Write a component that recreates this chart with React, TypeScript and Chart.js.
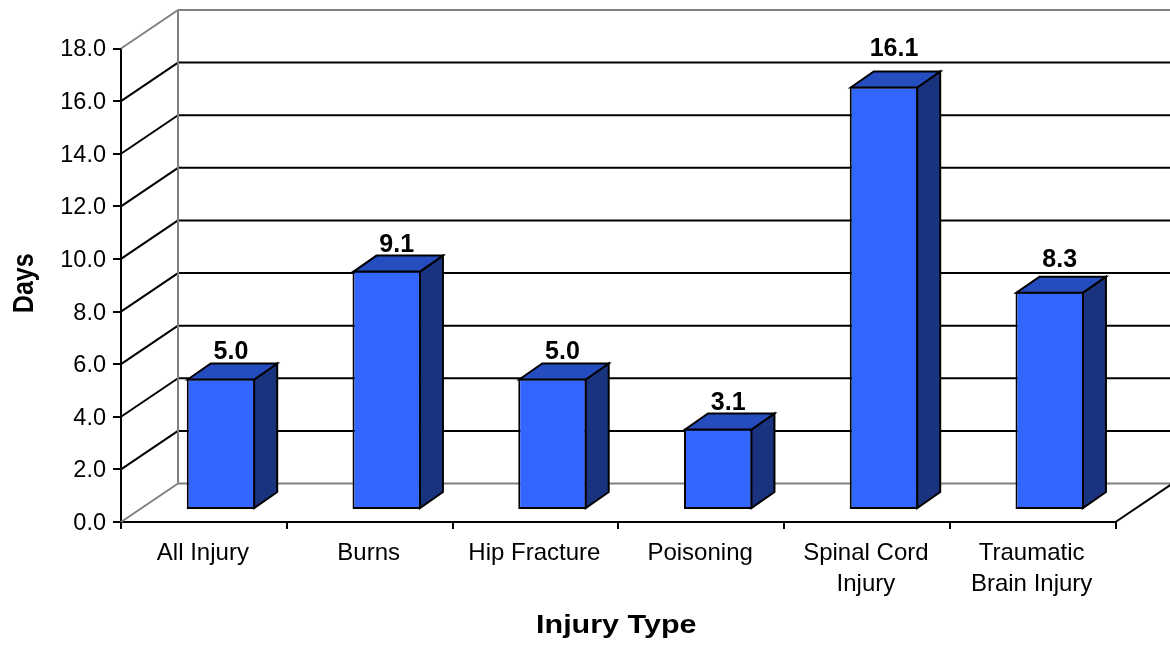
import React, { useEffect, useRef } from "react";
import { Chart, registerables } from "chart.js";

Chart.register(...registerables);

const categories = ["All Injury", "Burns", "Hip Fracture", "Poisoning", ["Spinal Cord", "Injury"], ["Traumatic", "Brain Injury"]];
const days = [5.0, 9.1, 5.0, 3.1, 16.1, 8.3];
const labelLift = [19, 18.5, 19, 18.5, 30, 24.5];
const xTitle = "Injury Type";
const yTitle = "Days";

const FONT = "'Liberation Sans', Arial, sans-serif";
const WALL_DX = 57;
const WALL_DY = -38.5;
const BAR_DX = 17.1;
const BAR_DY = -12;
const FACE_DX = 23;
const FACE_DY = -16;
const GREY = "#808080";

const line = (ctx: CanvasRenderingContext2D, x1: number, y1: number, x2: number, y2: number, color: string) => {
  ctx.strokeStyle = color;
  ctx.lineWidth = 2;
  ctx.beginPath();
  ctx.moveTo(x1, y1);
  ctx.lineTo(x2, y2);
  ctx.stroke();
};

const poly = (ctx: CanvasRenderingContext2D, pts: number[][], fill: string) => {
  ctx.fillStyle = fill;
  ctx.strokeStyle = "#000";
  ctx.lineWidth = 2;
  ctx.lineJoin = "miter";
  ctx.beginPath();
  pts.forEach((p, i) => (i ? ctx.lineTo(p[0], p[1]) : ctx.moveTo(p[0], p[1])));
  ctx.closePath();
  ctx.fill();
  ctx.stroke();
};

const box3d = {
  id: "box3d",
  beforeDatasetsDraw(chart: any) {
    const { ctx, scales, width } = chart;
    const y = scales.y;
    const left = scales.x.left;
    const right = scales.x.right;
    ctx.save();
    y.ticks.forEach((t: any, i: number) => {
      const py = y.getPixelForValue(t.value);
      const isEdge = i === 0 || i === y.ticks.length - 1;
      const color = isEdge ? GREY : "#000";
      line(ctx, left, py, left + WALL_DX, py + WALL_DY, color);
      line(ctx, left + WALL_DX, py + WALL_DY, width, py + WALL_DY, color);
    });
    const y0 = y.getPixelForValue(0);
    const y18 = y.getPixelForValue(18);
    line(ctx, left + WALL_DX, y0 + WALL_DY, left + WALL_DX, y18 + WALL_DY, GREY);
    line(ctx, right, y0, right + WALL_DX, y0 + WALL_DY, "#000");
    ctx.restore();
  },
  beforeDatasetDraw(chart: any) {
    chart.ctx.save();
    chart.ctx.translate(BAR_DX, BAR_DY);
  },
  afterDatasetDraw(chart: any, args: any) {
    const ctx = chart.ctx;
    args.meta.data.forEach((el: any) => {
      const r = el.x + el.width / 2 - 1;
      const l = el.x - el.width / 2 + 1;
      const t = el.y + 1;
      const b = el.base - 1;
      poly(ctx, [[r, t], [r + FACE_DX, t + FACE_DY], [r + FACE_DX, b + FACE_DY], [r, b]], "#1A337F");
      poly(ctx, [[l, t], [l + FACE_DX, t + FACE_DY], [r + FACE_DX, t + FACE_DY], [r, t]], "#264DBF");
    });
    ctx.restore();
  },
  afterDatasetsDraw(chart: any) {
    const ctx = chart.ctx;
    const meta = chart.getDatasetMeta(0);
    ctx.save();
    ctx.fillStyle = "#000";
    ctx.font = `bold 25px ${FONT}`;
    ctx.textAlign = "center";
    ctx.textBaseline = "alphabetic";
    meta.data.forEach((el: any, i: number) => {
      ctx.fillText(days[i].toFixed(1), el.x + BAR_DX + 10, el.y + BAR_DY - labelLift[i]);
    });
    ctx.save();
    ctx.translate((chart.scales.x.left + chart.scales.x.right) / 2 - 2, 633);
    ctx.scale(1.22, 1);
    ctx.fillText(xTitle, 0, 0);
    ctx.restore();
    ctx.translate(33, (chart.scales.y.top + chart.scales.y.bottom) / 2 - 2);
    ctx.rotate(-Math.PI / 2);
    ctx.scale(1, 1.2);
    ctx.fillText(yTitle, 0, 0);
    ctx.restore();
  },
};

export default function App() {
  const ref = useRef<HTMLCanvasElement>(null);
  useEffect(() => {
    const chart = new Chart(ref.current!, {
      type: "bar",
      data: {
        labels: categories as any,
        datasets: [{
          data: days,
          backgroundColor: "#3366FF",
          borderColor: "#000",
          borderWidth: 2,
          borderSkipped: false,
          categoryPercentage: 1,
          barPercentage: 0.413,
        }],
      },
      plugins: [box3d],
      options: {
        animation: false,
        responsive: false,
        layout: { padding: { top: 48.5, right: 54.5, left: 0, bottom: 0 } },
        plugins: { legend: { display: false }, tooltip: { enabled: false } },
        scales: {
          x: {
            grid: { drawOnChartArea: false, color: "#000", lineWidth: 2, tickLength: 7, tickColor: "#000" },
            border: { color: "#000", width: 2 },
            ticks: { color: "#000", font: { family: FONT, size: 24, lineHeight: 1.3 }, padding: 9, labelOffset: -1, maxRotation: 0, minRotation: 0, autoSkip: false },
            afterFit: (s: any) => { s.height = 124; },
          },
          y: {
            min: 0,
            max: 18,
            grid: { drawOnChartArea: false, color: "#000", lineWidth: 2, tickLength: 8, tickColor: "#000" },
            border: { color: "#000", width: 2 },
            ticks: { stepSize: 2, color: "#000", font: { family: FONT, size: 23.5 }, padding: 7, labelOffset: 1.5, callback: (v: any) => Number(v).toFixed(1) },
            afterFit: (s: any) => { s.width = 121; },
          },
        },
      },
    } as any);
    return () => chart.destroy();
  }, []);
  return <canvas ref={ref} width={1170} height={646} style={{ position: "absolute", left: 0, top: 0, display: "block", background: "#fff" }} />;
}
